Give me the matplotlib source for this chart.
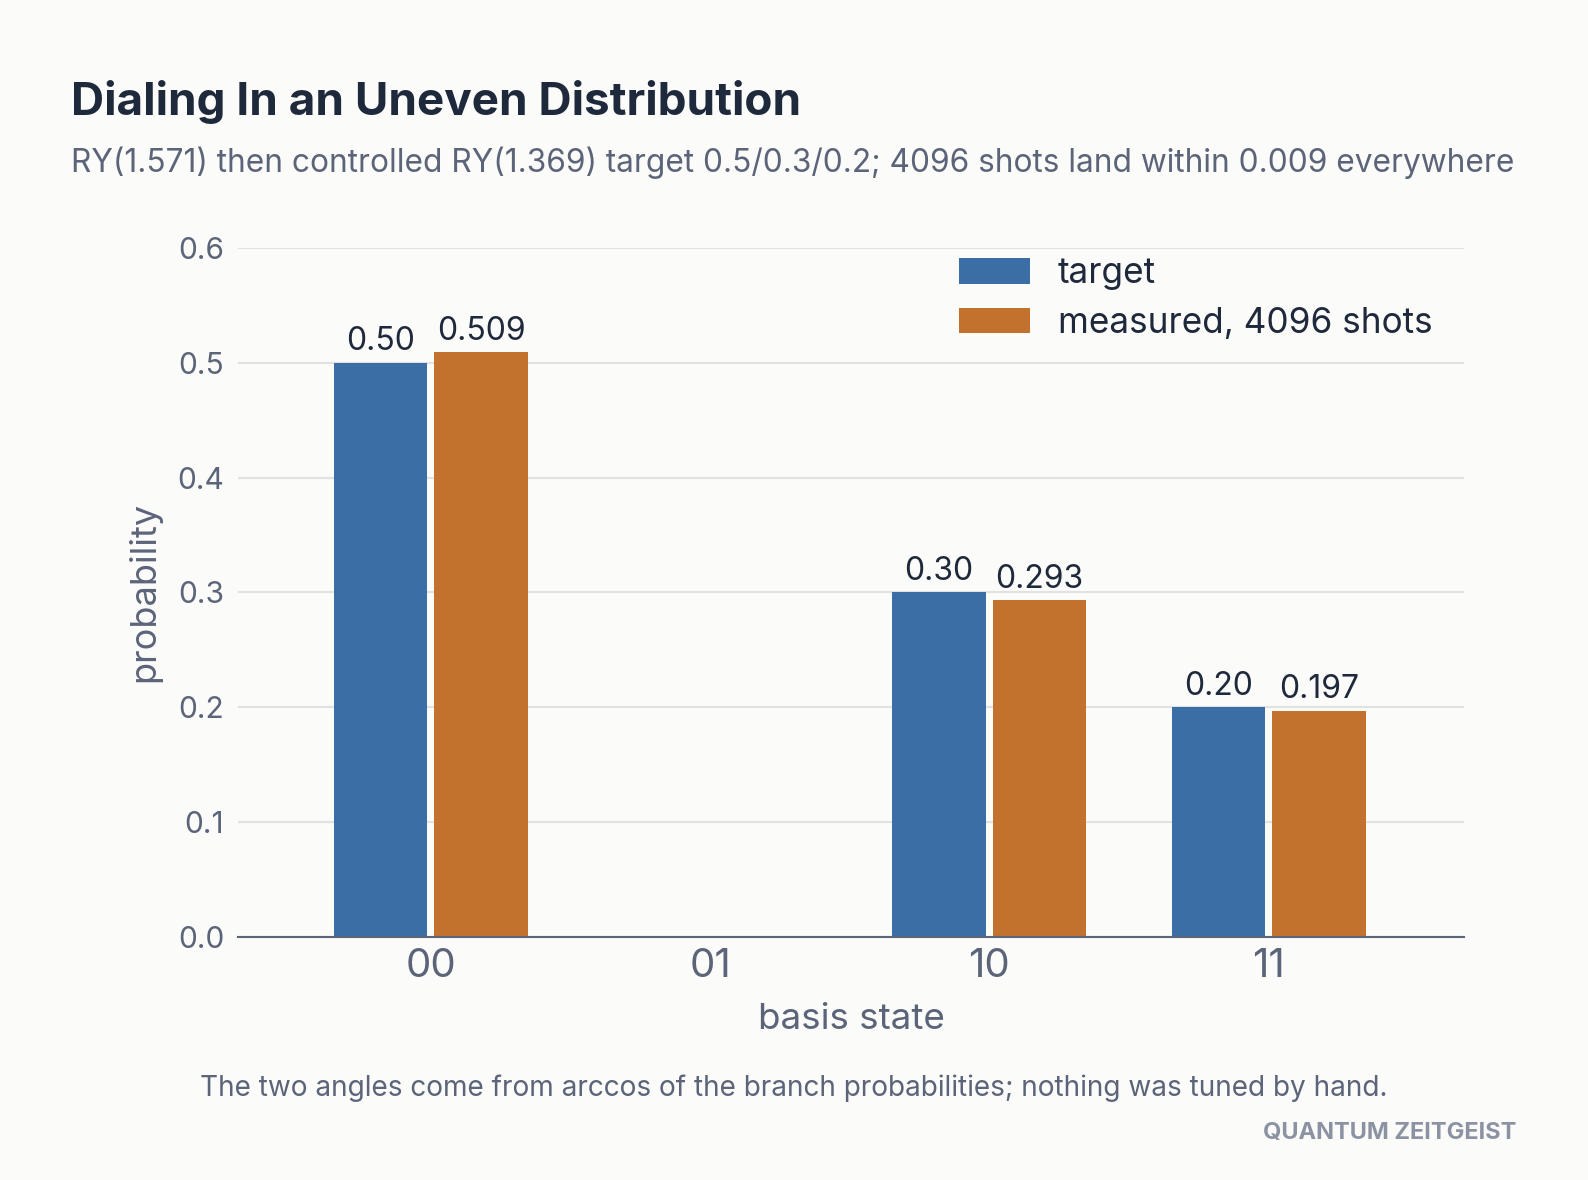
import matplotlib.pyplot as plt
import numpy as np

plt.rcParams['font.family'] = ['Inter', 'DejaVu Sans']

states = ['00', '01', '10', '11']
target = [0.50, 0.0, 0.30, 0.20]
measured = [0.509, 0.0, 0.293, 0.197]
target_labels = ['0.50', '', '0.30', '0.20']
measured_labels = ['0.509', '', '0.293', '0.197']
yticks = [0.0, 0.1, 0.2, 0.3, 0.4, 0.5, 0.6]

bg = '#fbfbfa'
blue = '#3a6ea5'
orange = '#c2722c'
dark = '#1e293b'
grey = '#5b6478'

fig = plt.figure(figsize=(15.88, 11.8), dpi=100, facecolor=bg)
ax = fig.add_axes([0.150, 0.206, 0.772, 0.584], facecolor=bg)

x = np.arange(len(states))
w = 0.335
off = 0.18
b1 = ax.bar(x - off, target, w, color=blue, label='target', zorder=3)
b2 = ax.bar(x + off, measured, w, color=orange, label='measured, 4096 shots', zorder=3)
ax.bar_label(b1, labels=target_labels, padding=4, fontsize=23, color=dark)
ax.bar_label(b2, labels=measured_labels, padding=4, fontsize=23, color=dark)

ax.set_xlim(-0.69, 3.70)
ax.set_ylim(0, 0.6)
ax.set_yticks(yticks)
ax.set_yticklabels([f'{v:.1f}' for v in yticks])
ax.set_xticks(x)
ax.set_xticklabels(states)
ax.tick_params(axis='x', length=0, pad=8, labelsize=29, labelcolor=grey)
ax.tick_params(axis='y', length=0, pad=10, labelsize=21.5, labelcolor=grey)
ax.grid(axis='y', color='#e2e2e2', linewidth=1.5, zorder=0)
for s in ['top', 'right', 'left']:
    ax.spines[s].set_visible(False)
ax.spines['bottom'].set_color(grey)
ax.spines['bottom'].set_linewidth(1.5)
ax.spines['bottom'].set_zorder(4)

ax.set_xlabel('basis state', fontsize=26.5, color=grey, labelpad=13)
ax.set_ylabel('probability', fontsize=26, color=grey, labelpad=12)

ax.legend(loc='upper left', bbox_to_anchor=(0.593, 0.797), bbox_transform=fig.transFigure,
          frameon=False, fontsize=25.3, handlelength=2.0, handleheight=0.74,
          handletextpad=0.81, labelspacing=0.47, borderpad=0, labelcolor=dark)

fig.text(0.045, 0.9025, 'Dialing In an Uneven Distribution', fontsize=33, fontweight='bold', color=dark)
fig.text(0.045, 0.854, 'RY(1.571) then controlled RY(1.369) target 0.5/0.3/0.2; 4096 shots land within 0.009 everywhere',
         fontsize=22.8, color=grey)
fig.text(0.5, 0.071, 'The two angles come from arccos of the branch probabilities; nothing was tuned by hand.',
         fontsize=20.15, color=grey, ha='center')
fig.text(0.955, 0.035, 'QUANTUM ZEITGEIST', fontsize=17, fontweight='bold', color='#8b93a3', ha='right')

fig.savefig('out.png', dpi=100, facecolor=bg)
